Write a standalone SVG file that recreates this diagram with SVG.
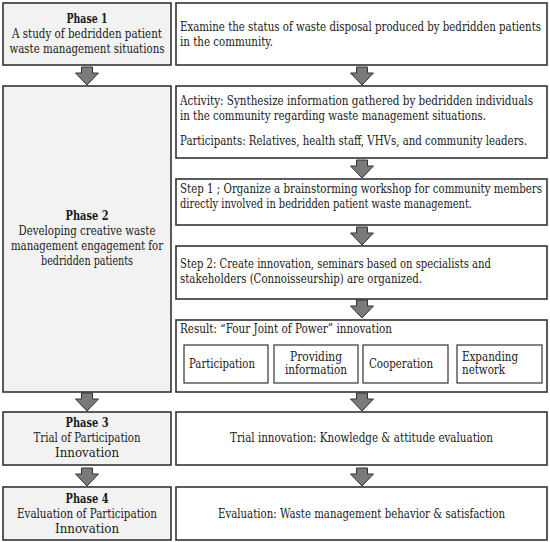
<svg xmlns="http://www.w3.org/2000/svg" width="550" height="542" viewBox="0 0 550 542">
<style>
.lb{fill:#f2f2f2;stroke:#333;stroke-width:1.6}
.rb{fill:#fff;stroke:#333;stroke-width:1.6}
.ib{fill:#fff;stroke:#333;stroke-width:1.2}
text{font-family:"DejaVu Serif",serif;font-size:12px;fill:#1a1a1a}
.c{text-anchor:middle}
.b{font-weight:bold}
.ar{fill:#7a7a7a;stroke:#333;stroke-width:1}
</style>
<defs>
<path id="arr" d="M-5.5,0 H5.5 V6 H11.5 L0,18 L-11.5,6 H-5.5 Z"/>
</defs>
<rect width="550" height="542" fill="#fff"/>
<g id="phase1">
<rect class="lb" x="3" y="3" width="168" height="62"/>
<text class="c b" x="87" y="23" textLength="41" lengthAdjust="spacingAndGlyphs">Phase 1</text>
<text class="c" x="87" y="38" textLength="150" lengthAdjust="spacingAndGlyphs">A study of bedridden patient</text>
<text class="c" x="87" y="53" textLength="155" lengthAdjust="spacingAndGlyphs">waste management situations</text>
</g>
<g id="examine">
<rect class="rb" x="176" y="3" width="371" height="62"/>
<text x="180" y="31" textLength="361" lengthAdjust="spacingAndGlyphs">Examine the status of waste disposal produced by  bedridden patients</text>
<text x="180" y="46" textLength="93" lengthAdjust="spacingAndGlyphs">in the community.</text>
</g>
<g id="phase2">
<rect class="lb" x="3" y="86" width="168" height="306"/>
<text class="c b" x="87" y="220" textLength="43" lengthAdjust="spacingAndGlyphs">Phase 2</text>
<text class="c" x="87" y="235" textLength="137" lengthAdjust="spacingAndGlyphs">Developing creative waste</text>
<text class="c" x="87" y="250" textLength="152" lengthAdjust="spacingAndGlyphs">management engagement for</text>
<text class="c" x="87" y="265" textLength="92" lengthAdjust="spacingAndGlyphs">bedridden patients</text>
</g>
<g id="activity">
<rect class="rb" x="176" y="86" width="371" height="72"/>
<text x="180" y="105" textLength="353" lengthAdjust="spacingAndGlyphs">Activity: Synthesize information gathered by bedridden individuals</text>
<text x="180" y="120" textLength="306" lengthAdjust="spacingAndGlyphs">in the community regarding waste management situations.</text>
<text x="180" y="145" textLength="347" lengthAdjust="spacingAndGlyphs">Participants: Relatives, health staff, VHVs, and community leaders.</text>
</g>
<g id="step1">
<rect class="rb" x="176" y="179" width="371" height="46"/>
<text x="180" y="193" textLength="362" lengthAdjust="spacingAndGlyphs">Step 1 ; Organize a brainstorming workshop for community members</text>
<text x="180" y="208" textLength="292" lengthAdjust="spacingAndGlyphs">directly involved in bedridden patient waste management.</text>
</g>
<g id="step2">
<rect class="rb" x="176" y="246" width="371" height="53"/>
<text x="180" y="268" textLength="311" lengthAdjust="spacingAndGlyphs">Step 2: Create innovation, seminars based on specialists and</text>
<text x="180" y="283" textLength="242" lengthAdjust="spacingAndGlyphs">stakeholders (Connoisseurship) are organized.</text>
</g>
<g id="result">
<rect class="rb" x="176" y="320" width="371" height="72"/>
<text x="180" y="333" textLength="212" lengthAdjust="spacingAndGlyphs">Result: “Four Joint of Power” innovation</text>
</g>
<g id="participation">
<rect class="ib" x="184" y="345" width="84" height="38"/>
<text x="189" y="368" textLength="66" lengthAdjust="spacingAndGlyphs">Participation</text>
</g>
<g id="providing">
<rect class="ib" x="274" y="345" width="84" height="38"/>
<text class="c" x="316" y="361" textLength="52" lengthAdjust="spacingAndGlyphs">Providing</text>
<text class="c" x="316" y="374" textLength="62" lengthAdjust="spacingAndGlyphs">information</text>
</g>
<g id="cooperation">
<rect class="ib" x="363" y="345" width="85" height="38"/>
<text x="369" y="368" textLength="64" lengthAdjust="spacingAndGlyphs">Cooperation</text>
</g>
<g id="expanding">
<rect class="ib" x="457" y="345" width="85" height="38"/>
<text x="462" y="361" textLength="56" lengthAdjust="spacingAndGlyphs">Expanding</text>
<text x="462" y="374" textLength="43" lengthAdjust="spacingAndGlyphs">network</text>
</g>
<g id="phase3">
<rect class="lb" x="3" y="412" width="168" height="53"/>
<text class="c b" x="87" y="427" textLength="43" lengthAdjust="spacingAndGlyphs">Phase 3</text>
<text class="c" x="87" y="442" textLength="107" lengthAdjust="spacingAndGlyphs">Trial of Participation</text>
<text class="c" x="87" y="457" textLength="64" lengthAdjust="spacingAndGlyphs">Innovation</text>
</g>
<g id="trial">
<rect class="rb" x="176" y="412" width="371" height="53"/>
<text class="c" x="361.5" y="442" textLength="263" lengthAdjust="spacingAndGlyphs">Trial innovation: Knowledge &amp; attitude evaluation</text>
</g>
<g id="phase4">
<rect class="lb" x="3" y="487" width="168" height="53"/>
<text class="c b" x="87" y="503" textLength="43" lengthAdjust="spacingAndGlyphs">Phase 4</text>
<text class="c" x="87" y="518" textLength="140" lengthAdjust="spacingAndGlyphs">Evaluation of Participation</text>
<text class="c" x="87" y="533" textLength="64" lengthAdjust="spacingAndGlyphs">Innovation</text>
</g>
<g id="evaluation">
<rect class="rb" x="176" y="487" width="371" height="53"/>
<text class="c" x="361.5" y="518" textLength="287" lengthAdjust="spacingAndGlyphs">Evaluation: Waste management behavior &amp; satisfaction</text>
</g>
<g id="connectors">
<use class="ar" href="#arr" x="87" y="67"/>
<use class="ar" href="#arr" x="362" y="67"/>
<use class="ar" href="#arr" x="362" y="160"/>
<use class="ar" href="#arr" x="362" y="227"/>
<use class="ar" href="#arr" x="362" y="300"/>
<use class="ar" href="#arr" x="87" y="393"/>
<use class="ar" href="#arr" x="362" y="393"/>
<use class="ar" href="#arr" x="87" y="468"/>
<use class="ar" href="#arr" x="362" y="468"/>
</g>
</svg>
